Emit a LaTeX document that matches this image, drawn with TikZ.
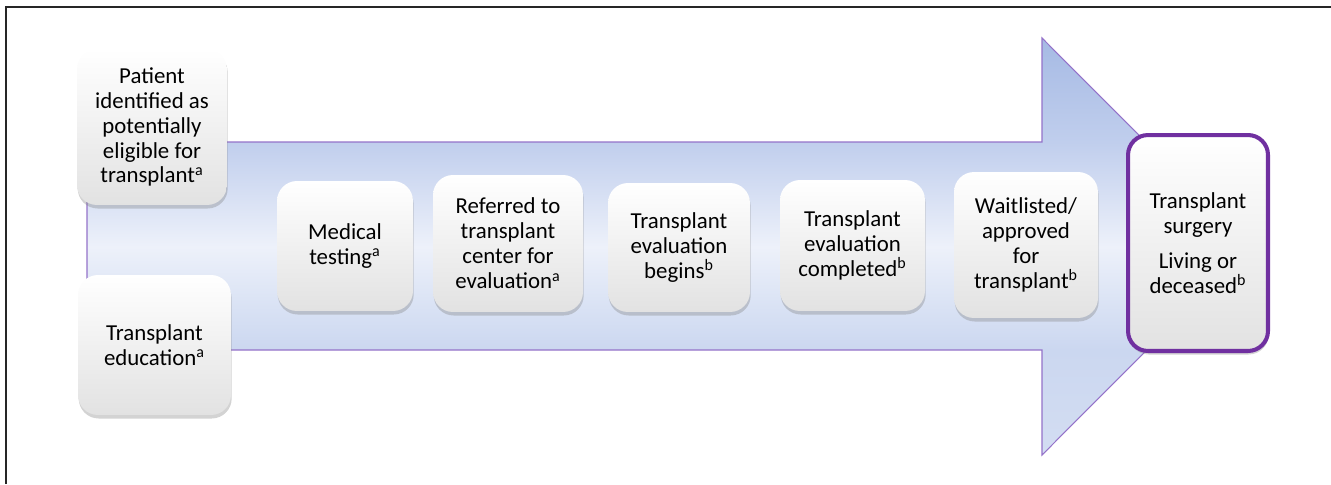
\documentclass[tikz,border=0pt]{standalone}
\usepackage{fontspec}
\setmainfont{Carlito}
\usepackage{tikz}
\usetikzlibrary{shadows}
\definecolor{arrowtop}{HTML}{A6BAE4}
\definecolor{arrowupper}{HTML}{C0CEED}
\definecolor{arrowmid}{HTML}{EDF1FA}
\definecolor{arrowlower}{HTML}{CBD7F0}
\definecolor{arrowbot}{HTML}{D3DDF2}
\definecolor{arrowline}{HTML}{9472C9}
\definecolor{surgeryline}{HTML}{7030A0}
\definecolor{boxlow}{HTML}{E2E2E2}
\pgfdeclareverticalshading{arrowshade}{100bp}{color(0bp)=(arrowbot); color(25bp)=(arrowbot);
  color(37.6bp)=(arrowlower); color(50bp)=(arrowmid); color(62.5bp)=(arrowupper);
  color(75bp)=(arrowtop); color(100bp)=(arrowtop)}

\begin{document}
\begin{tikzpicture}[x=0.02cm,y=-0.02cm,
  stage/.style={rounded corners=0.4cm, top color=white, bottom color=boxlow,
    align=center, inner sep=0pt, text=black,
    font=\fontsize{13}{14.2}\selectfont,
    drop shadow={shadow xshift=0.4pt, shadow yshift=-2pt, opacity=0.35}},
  goal/.style={stage, draw=surgeryline, line width=2.3pt}]
\useasboundingbox (0,0) rectangle (1331,484);
\draw[line width=1.2pt, black!85] (6,484) -- (6,7) -- (1331,7);

% big arrow
\draw[arrowline, line width=0.6pt, shading=arrowshade]
  (87,142) -- (1042,142) -- (1042,38) -- (1250,246.5) -- (1042,455) -- (1042,350) -- (87,350) -- cycle;

% stages
\node[stage, minimum width=3cm, minimum height=3.12cm] (patient) at (152,127)
  {Patient\\identified as\\potentially\\eligible for\\transplant\textsuperscript{a}};
\node[stage, minimum width=3.06cm, minimum height=2.8cm] (education) at (154.5,345)
  {Transplant\\education\textsuperscript{a}};
\node[stage, minimum width=2.72cm, minimum height=2.6cm] (testing) at (345,246)
  {Medical\\testing\textsuperscript{a}};
\node[stage, minimum width=3cm, minimum height=2.74cm] (referred) at (508,243.5)
  {Referred to\\transplant\\center for\\evaluation\textsuperscript{a}};
\node[stage, minimum width=2.84cm, minimum height=2.58cm] (evalbegin) at (679,247.5)
  {Transplant\\evaluation\\begins\textsuperscript{b}};
\node[stage, minimum width=2.9cm, minimum height=2.62cm] (evaldone) at (852.5,245.5)
  {Transplant\\evaluation\\completed\textsuperscript{b}};
\node[stage, minimum width=2.88cm, minimum height=2.92cm] (waitlist) at (1026,245)
  {Waitlisted/\\approved\\for\\transplant\textsuperscript{b}};
\node[goal, minimum width=2.8cm, minimum height=4.32cm] (surgery) at (1198,243)
  {Transplant\\surgery\\[0.2cm]Living or\\deceased\textsuperscript{b}};
\end{tikzpicture}
\end{document}
